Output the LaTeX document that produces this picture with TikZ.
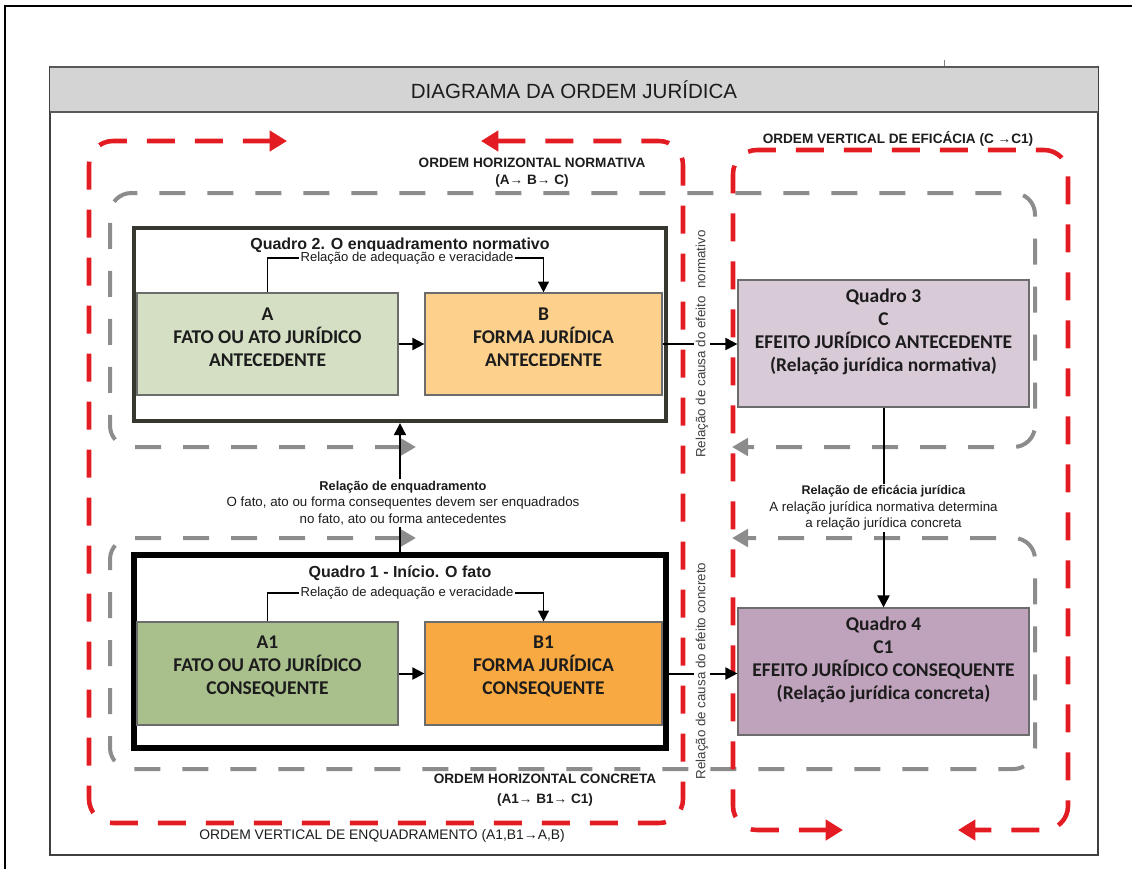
\documentclass[tikz,border=0pt]{standalone}
\usepackage{fontspec}
\setmainfont{Liberation Sans}
\newfontfamily\calib{Carlito}
\usetikzlibrary{arrows.meta}
\definecolor{redd}{HTML}{E31B23}
\definecolor{grayd}{HTML}{8C8C8C}
\definecolor{fillA}{HTML}{D4DFC4}
\definecolor{fillB}{HTML}{FDD08C}
\definecolor{fillAone}{HTML}{A9BF8C}
\definecolor{fillBone}{HTML}{F9A942}
\definecolor{fillC}{HTML}{D9CAD8}
\definecolor{fillCone}{HTML}{BFA3BD}
\definecolor{hdr}{HTML}{D4D4D4}
\definecolor{qtwo}{HTML}{34382F}
\definecolor{txt}{HTML}{1C1C1C}
\begin{document}
\begin{tikzpicture}[x=0.75pt,y=-0.75pt,
  reddash/.style={draw=redd, line width=3.4pt, dash pattern=on 21pt off 15pt, rounded corners=18pt},
  graydash/.style={draw=grayd, line width=3pt, dash pattern=on 19.5pt off 16.5pt, rounded corners=16pt},
  redtip/.tip={Triangle[length=13pt,width=15pt]},
  graytip/.tip={Triangle[length=12pt,width=13pt]},
  box/.style={draw=gray!85!black, line width=0.9pt, inner sep=0pt},
  boxtxt/.style={font=\calib\bfseries\fontsize{14.6}{17.25}\selectfont, align=center, inner sep=0pt, text=txt},
  quadro/.style={inner sep=0pt, minimum width=399pt, minimum height=144.75pt},
  qtitle/.style={font=\bfseries\fontsize{12}{14}\selectfont, inner sep=0pt, text=txt},
  rel/.style={font=\fontsize{9.8}{11}\selectfont, fill=white, inner sep=1pt, text=txt},
  mid/.style={align=center, fill=white, inner sep=1pt, text=txt, font=\fontsize{10}{12.4}\selectfont},
  vtext/.style={rotate=90, fill=white, inner sep=1pt, text=black!75, font=\fontsize{10}{12}\selectfont},
  ordemb/.style={font=\bfseries\fontsize{10.2}{12.75}\selectfont, align=center, inner sep=0pt, text=txt},
  ordemr/.style={font=\fontsize{10.4}{12.75}\selectfont, inner sep=0pt, text=txt},
  arr/.style={line width=1.5pt, -{Triangle[length=9pt,width=9pt]}},
  ln/.style={line width=1.5pt},
  brk/.style={line width=1.2pt},
  brkarr/.style={line width=1.2pt, -{Triangle[length=8pt,width=8pt]}}
]
\useasboundingbox (0,0) rectangle (1132,869);
% outer frame
\draw[line width=1.5pt] (5,869) -- (5,6) -- (1132,6);
% panel
\draw[line width=1pt, draw=black!75] (50,67) rectangle (1098,855);
\draw[gray, line width=0.5pt] (944,60) -- (944,67);
\node[fill=hdr, minimum width=786pt, minimum height=33.75pt, inner sep=0pt, font=\fontsize{15.4}{18}\selectfont, text=txt] (hdr) at (574,89.5) {DIAGRAMA DA ORDEM JURÍDICA};
\draw[line width=1.6pt, draw=black!65] (hdr.north west) -- (hdr.north east);
\draw[line width=1.6pt, draw=black!65] (hdr.south west) -- (hdr.south east);

% gray dashed boxes
\draw[graydash, {graytip}-{graytip}] (416,447) -- (110,447) -- (110,193) -- (1035,193) -- (1035,447) -- (732,447);
\draw[graydash, {graytip}-{graytip}] (416,538) -- (110,538) -- (110,769) -- (1035,769) -- (1035,538) -- (732,538);

% red dashed boxes
\draw[reddash, {redtip}-{redtip}] (287,141) -- (89,141) -- (89,823) -- (683,823) -- (683,141) -- (481,141);
\draw[reddash, {redtip}-{redtip}] (843,830) -- (733,830) -- (733,150) -- (1068,150) -- (1068,830) -- (958,830);

% quadro frames
\node[quadro, draw=qtwo, line width=3.2pt] (Q2) at (400,324.5) {};
\node[quadro, draw=black, line width=3.8pt] (Q1) at (400,651.5) {};

% boxes
\node[box, fill=fillA, minimum width=195.75pt, minimum height=76.5pt] (A) at (267.5,344) {};
\node[box, fill=fillB, minimum width=177.75pt, minimum height=76.5pt] (B) at (543.5,344) {};
\node[box, fill=fillAone, minimum width=195.75pt, minimum height=77.25pt] (A1) at (267.5,673.5) {};
\node[box, fill=fillBone, minimum width=177.75pt, minimum height=77.25pt] (B1) at (543.5,673.5) {};
\node[box, fill=fillC, minimum width=218.25pt, minimum height=95.25pt] (C) at (883.5,343.5) {};
\node[box, fill=fillCone, minimum width=218.25pt, minimum height=95.25pt] (C1) at (883.5,671.5) {};

\node[boxtxt] (At) at (267.5,337) {A\\FATO OU ATO JURÍDICO\\ANTECEDENTE};
\node[boxtxt] (Bt) at (543.5,337) {B\\FORMA JURÍDICA\\ANTECEDENTE};
\node[boxtxt] (A1t) at (267.5,666.5) {A1\\FATO OU ATO JURÍDICO\\CONSEQUENTE};
\node[boxtxt] (B1t) at (543.5,666.5) {B1\\FORMA JURÍDICA\\CONSEQUENTE};
\node[boxtxt] (Ct) at (883.5,331.5) {Quadro 3\\C\\EFEITO JURÍDICO ANTECEDENTE\\(Relação jurídica normativa)};
\node[boxtxt] (C1t) at (883.5,660) {Quadro 4\\C1\\EFEITO JURÍDICO CONSEQUENTE\\(Relação jurídica concreta)};

% titles and brackets
\node[qtitle] (Q2t) at (400,245) {Quadro 2. O enquadramento normativo};
\node[qtitle] (Q1t) at (400,573) {Quadro 1 - Início. O fato};
\node[rel] (r2) at (407,258) {Relação de adequação e veracidade};
\node[rel] (r1) at (407,593) {Relação de adequação e veracidade};
\draw[brk] (A.north) |- (r2.west);
\draw[brkarr] (r2.east) -| (B.north);
\draw[brk] (A1.north) |- (r1.west);
\draw[brkarr] (r1.east) -| (B1.north);

% horizontal arrows
\draw[arr] (A.east) -- (B.west);
\draw[arr] (A1.east) -- (B1.west);
\draw[arr] (B.east) -- (B.east -| C.west);
\draw[arr] (B1.east) -- (B1.east -| C1.west);

% middle texts and vertical arrows
\node[mid] (enq) at (403,503) {{\bfseries\fontsize{9.6}{12.4}\selectfont Relação de enquadramento}\\O fato, ato ou forma consequentes devem ser enquadrados\\no fato, ato ou forma antecedentes};
\draw[ln] (Q1.north) -- (Q1.north |- enq.south);
\draw[arr] (Q2.south |- enq.north) -- (Q2.south);
\node[mid] (eff) at (883.5,508) {{\bfseries\fontsize{9.4}{12.4}\selectfont Relação de eficácia jurídica}\\A relação jurídica normativa determina\\a relação jurídica concreta};
\draw[ln] (C.south) -- (C.south |- eff.north);
\draw[arr] (C1.north |- eff.south) -- (C1.north);

% vertical texts
\node[vtext] (v1) at (702,344) {Relação de causa do efeito~ normativo};
\node[vtext] (v2) at (702,671) {Relação de causa do efeito concreto};

% order labels
\node[ordemb] (lhn) at (532,172.5) {ORDEM HORIZONTAL NORMATIVA\\(A→ B→ C)};
\node[ordemb, font=\bfseries\fontsize{10.2}{15}\selectfont] (lhc) at (545,790) {ORDEM HORIZONTAL CONCRETA\\(A1→ B1→ C1)};
\node[ordemr] (lve) at (382,836) {ORDEM VERTICAL DE ENQUADRAMENTO (A1,B1→A,B)};
\node[ordemb] (lvf) at (898,139) {ORDEM VERTICAL DE EFICÁCIA (C →C1)};
\end{tikzpicture}
\end{document}
